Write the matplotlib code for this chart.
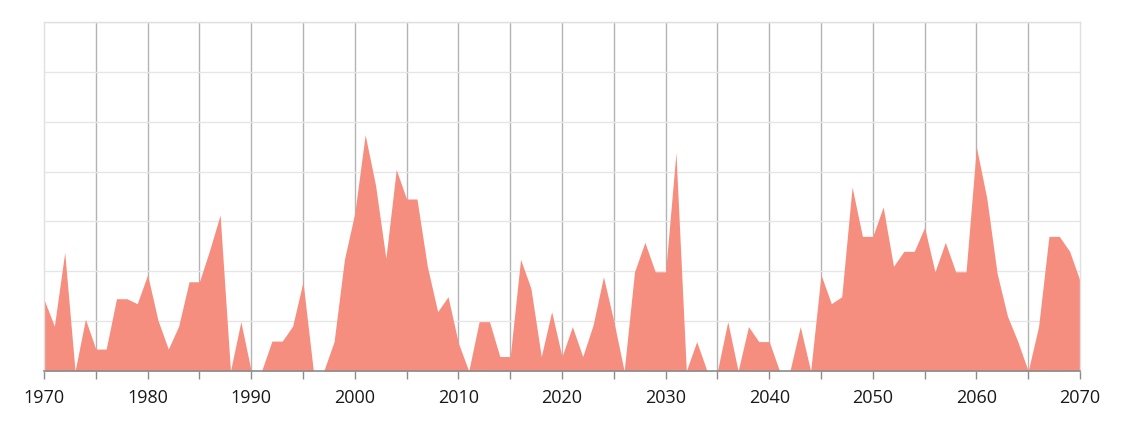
import matplotlib
matplotlib.use("Agg")
import matplotlib.pyplot as plt
from matplotlib.ticker import MultipleLocator

years = list(range(1970, 2071))
values = [
    1.44, 0.90, 2.38, 0.00, 1.04, 0.44, 0.44, 1.45, 1.45, 1.35,   # 1970-1979
    1.93, 1.02, 0.44, 0.90, 1.79, 1.79, 2.43, 3.13, 0.00, 0.99,   # 1980-1989
    0.00, 0.00, 0.60, 0.60, 0.90, 1.79, 0.00, 0.00, 0.59, 2.24,   # 1990-1999
    3.17, 4.74, 3.73, 2.26, 4.04, 3.45, 3.45, 2.10, 1.19, 1.49,   # 2000-2009
    0.56, 0.00, 0.99, 0.99, 0.29, 0.29, 2.24, 1.66, 0.29, 1.19,   # 2010-2019
    0.29, 0.89, 0.29, 0.92, 1.89, 1.00, 0.00, 1.99, 2.58, 1.99,   # 2020-2029
    1.99, 4.38, 0.00, 0.59, 0.00, 0.00, 0.99, 0.00, 0.89, 0.59,   # 2030-2039
    0.59, 0.00, 0.00, 0.89, 0.00, 1.93, 1.35, 1.49, 3.69, 2.70,   # 2040-2049
    2.70, 3.29, 2.10, 2.40, 2.40, 2.88, 1.99, 2.58, 1.99, 1.99,   # 2050-2059
    4.49, 3.47, 1.96, 1.10, 0.59, 0.00, 0.89, 2.70, 2.70, 2.40,   # 2060-2069
    1.81,                                                         # 2070
]
tick_years = list(range(1970, 2071, 5))
tick_labels = [str(y) if y % 10 == 0 else "" for y in tick_years]

fig = plt.figure(figsize=(11.24, 4.23), dpi=100)
ax = fig.add_axes([44/1124, 1-371/423, (1080-44)/1124, (371-22)/423])

ax.fill_between(years, values, 0, color="#F68E7F", linewidth=0, zorder=2)

ax.set_xlim(1970, 2070)
ax.set_ylim(0, 7)

ax.yaxis.set_major_locator(MultipleLocator(1))
ax.set_yticklabels([])
ax.tick_params(axis="y", length=0)
ax.grid(axis="y", color="#E6E6E6", linewidth=1, zorder=0)

ax.set_xticks(tick_years)
ax.set_xticklabels(tick_labels)
for x in tick_years[1:-1]:
    ax.axvline(x, color="#B3B3B3", linewidth=1, zorder=1)

ax.tick_params(axis="x", direction="out", length=6, width=1, color="#8C8C8C",
               labelsize=13, labelcolor="#1A1A1A", pad=7)
for lab in ax.get_xticklabels():
    lab.set_family(["Open Sans", "DejaVu Sans"])

for side in ("left", "right", "top"):
    ax.spines[side].set_color("#E0E0E0")
    ax.spines[side].set_linewidth(1)
ax.spines["bottom"].set_color("#8C8C8C")
ax.spines["bottom"].set_linewidth(1.2)
ax.spines["bottom"].set_zorder(3)

fig.savefig("out.png", dpi=100)
